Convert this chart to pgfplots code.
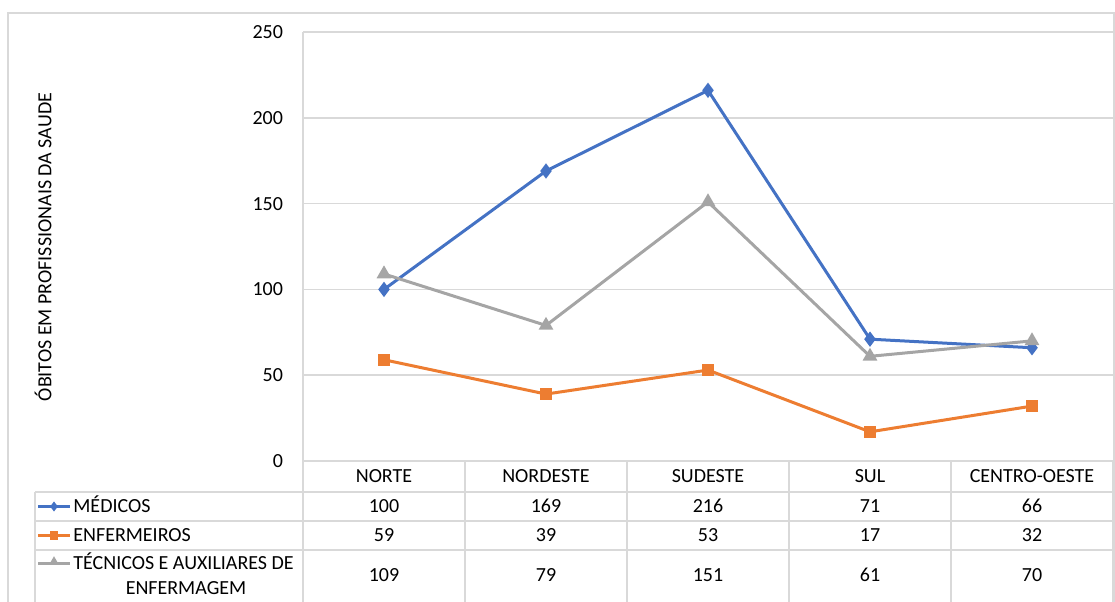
\documentclass[border=0pt]{standalone}
\usepackage{pgfplots}
\pgfplotsset{compat=1.18}
\usetikzlibrary{shapes.geometric}
\usepackage{fontspec}
\setmainfont{Carlito}
\definecolor{serA}{HTML}{4472C4}
\definecolor{serB}{HTML}{ED7D31}
\definecolor{serC}{HTML}{A5A5A5}
\definecolor{gridc}{HTML}{D9D9D9}

\pgfplotstableread{
x  med  enf  tec
0  100  59   109
1  169  39   79
2  216  53   151
3  71   17   61
4  66   32   70
}\obitos

\begin{document}
\fontsize{10pt}{12pt}\selectfont
\begin{tikzpicture}[x=1pt,y=1pt]
\path[use as bounding box] (0,0) rectangle (557.5,300.5);
% outer chart frame
\draw[gridc, line width=0.75pt] (4,-10) -- (4,294) -- (557,294) -- (557,-10);

\begin{axis}[
  at={(151.5pt,70pt)}, anchor=south west,
  scale only axis, width=405pt, height=214.5pt,
  xmin=-0.5, xmax=4.5, ymin=0, ymax=250,
  xtick=\empty, ytick={0,50,...,250},
  separate axis lines,
  axis x line*=bottom, axis y line*=left,
  axis line style={gridc, line width=0.75pt, -},
  ymajorgrids, grid style={gridc, line width=0.75pt},
  major tick length=0,
  /pgf/number format/assume math mode=true,
  yticklabel style={font=\fontsize{10pt}{12pt}\selectfont, xshift=-6.5pt},
  clip=false,
]
\addplot[serA, line width=1.5pt, mark=diamond*, mark size=2.6pt,
  mark options={solid, fill=serA}] table[x=x, y=med] {\obitos};
\addplot[serB, line width=1.5pt, mark=square*, mark size=2.2pt,
  mark options={solid, fill=serB}] table[x=x, y=enf] {\obitos};
\addplot[serC, line width=1.5pt, mark=triangle*, mark size=2.8pt,
  mark options={solid, fill=serC}] table[x=x, y=tec] {\obitos};
\end{axis}

% y axis title
\node[rotate=90] at (21.5,177) {ÓBITOS EM PROFISSIONAIS DA SAUDE};

% data table grid
\begin{scope}[gridc, line width=0.75pt]
  \draw (17.5,54.5) -- (556.5,54.5);
  \draw (17.5,40) -- (556.5,40);
  \draw (17.5,25.5) -- (556.5,25.5);
  \draw (17.5,54.5) -- (17.5,-10);
  \draw (151.5,70) -- (151.5,-10);
  \foreach \xx in {232.5,313.5,394.5,475.5,556.5}
    \draw (\xx,70) -- (\xx,-10);
\end{scope}

% category header
\foreach \cx/\nm in {192/NORTE,273/NORDESTE,354/SUDESTE,435/SUL,516/CENTRO-OESTE}
  \node[anchor=base] at (\cx,59.3) {\nm};

% series keys
\draw[serA, line width=1.5pt] (19,47.25) -- (35,47.25);
\node[serA, diamond, fill, inner sep=0pt, minimum width=4pt, minimum height=5.2pt] at (27,47.25) {};
\draw[serB, line width=1.5pt] (19,32.75) -- (35,32.75);
\node[serB, fill, inner sep=0pt, minimum size=4.4pt] at (27,32.75) {};
\draw[serC, line width=1.5pt] (19,19) -- (35,19);
\node[serC, regular polygon, regular polygon sides=3, fill, inner sep=0pt, minimum size=5.6pt] at (27,19.6) {};

\begin{scope}[every node/.style={inner sep=0pt}]
\node[anchor=base west] at (36.5,44.1) {MÉDICOS};
\node[anchor=base west] at (36.5,29.6) {ENFERMEIROS};
\node[anchor=base west] at (36.5,15.8) {TÉCNICOS E AUXILIARES DE};
\node[anchor=base] at (93,3.3) {ENFERMAGEM};
\end{scope}

% table values
\foreach \cx/\a/\b/\c in {192/100/59/109,273/169/39/79,354/216/53/151,435/71/17/61,516/66/32/70}{
  \node[anchor=base] at (\cx,44.1) {\a};
  \node[anchor=base] at (\cx,29.6) {\b};
  \node[anchor=base] at (\cx,9.8) {\c};
}
\end{tikzpicture}
\end{document}
